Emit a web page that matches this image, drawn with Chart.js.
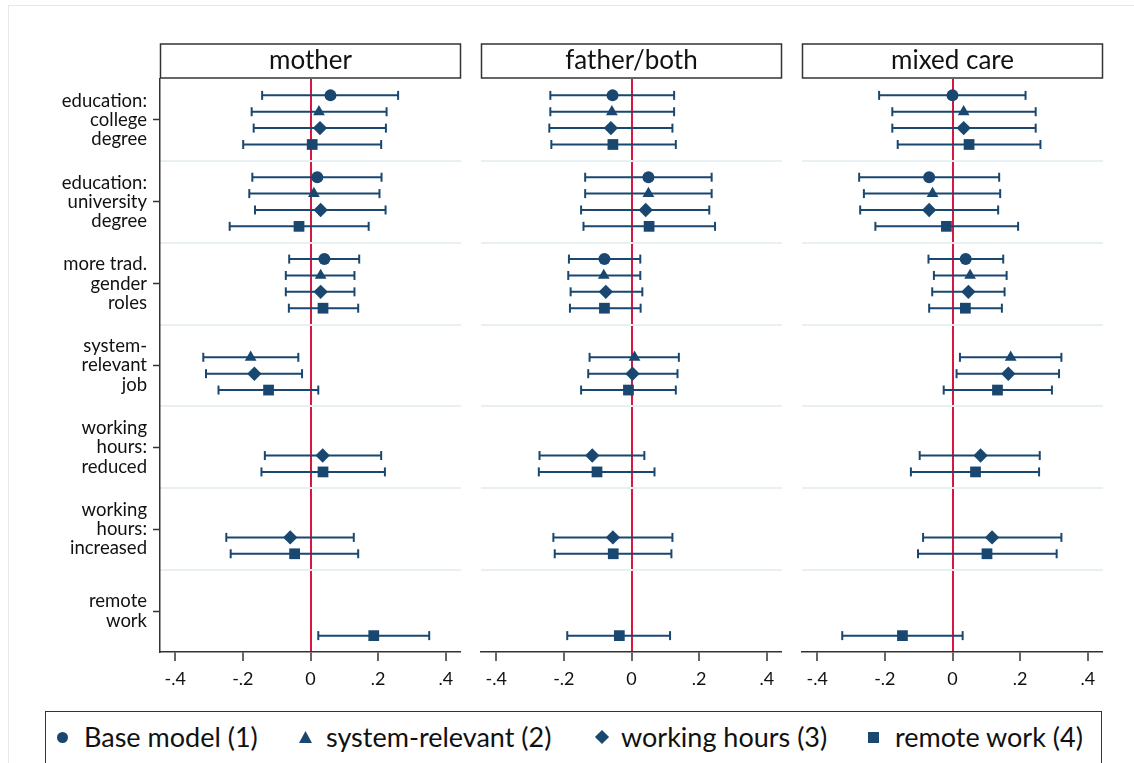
<!DOCTYPE html>
<html>
<head>
<meta charset="utf-8">
<script src="https://cdn.jsdelivr.net/npm/chart.js@4.4.1/dist/chart.umd.min.js"></script>
<style>
  body { margin: 0; background: #fff; }
  #wrap { position: relative; width: 1134px; height: 763px; overflow: hidden; font-family: Lato, sans-serif; }
  #frame { position: absolute; left: 8px; top: 5px; width: 1140px; height: 780px; border: 1px solid #e8e8e8; }
  canvas { position: absolute; top: 0; }
  #legend { position: absolute; left: 45px; top: 711px; width: 1055px; height: 70px; border: 1.5px solid #333; background: #fff; }
  .item { position: absolute; top: 7px; font-size: 27px; color: #111; line-height: 36px; white-space: nowrap; }
  .mk { position: absolute; background: #1a476f; }
</style>
</head>
<body>
<div id="wrap">
  <div id="frame"></div>
  <canvas id="pMother" width="470" height="700" style="left:0px"></canvas>
  <canvas id="pFather" width="320" height="700" style="left:470px"></canvas>
  <canvas id="pMixed" width="330" height="700" style="left:790px"></canvas>
  <div id="legend">
    <div class="mk" style="left:11px;top:20px;width:11px;height:11px;border-radius:50%"></div>
    <div class="item" style="left:38px">Base model (1)</div>
    <div class="mk" style="left:253px;top:19px;width:13px;height:12px;clip-path:polygon(50% 0,100% 100%,0 100%)"></div>
    <div class="item" style="left:280px">system-relevant (2)</div>
    <div class="mk" style="left:551px;top:20px;width:10px;height:10px;transform:rotate(45deg)"></div>
    <div class="item" style="left:575px">working hours (3)</div>
    <div class="mk" style="left:822px;top:20px;width:11px;height:11px"></div>
    <div class="item" style="left:849px">remote work (4)</div>
  </div>
</div>
<script>
// row labels, panels, ticks
const categories = [
  ['education:', 'college', 'degree'],
  ['education:', 'university', 'degree'],
  ['more trad.', 'gender', 'roles'],
  ['system-', 'relevant', 'job'],
  ['working', 'hours:', 'reduced'],
  ['working', 'hours:', 'increased'],
  ['remote', 'work']
];
const seriesNames = ['Base model (1)', 'system-relevant (2)', 'working hours (3)', 'remote work (4)'];
const xTickValues = [-0.4, -0.2, 0, 0.2, 0.4];

// [estimate, lower CI, upper CI] per row, null = not in model
const motherBase   = [[0.059, -0.143, 0.259], [0.020, -0.172, 0.210], [0.041, -0.063, 0.144], null, null, null, null];
const motherSysRel = [[0.025, -0.174, 0.225], [0.010, -0.181, 0.204], [0.030, -0.073, 0.130], [-0.177, -0.317, -0.036], null, null, null];
const motherHours  = [[0.028, -0.168, 0.223], [0.030, -0.164, 0.222], [0.030, -0.073, 0.130], [-0.166, -0.309, -0.025], [0.036, -0.135, 0.209], [-0.060, -0.249, 0.128], null];
const motherRemote = [[0.005, -0.199, 0.209], [-0.034, -0.239, 0.172], [0.037, -0.064, 0.141], [-0.124, -0.272, 0.023], [0.037, -0.145, 0.220], [-0.047, -0.236, 0.141], [0.187, 0.023, 0.351]];

const fatherBase   = [[-0.056, -0.240, 0.126], [0.050, -0.137, 0.237], [-0.080, -0.185, 0.026], null, null, null, null];
const fatherSysRel = [[-0.058, -0.240, 0.126], [0.050, -0.137, 0.237], [-0.082, -0.187, 0.026], [0.009, -0.124, 0.140], null, null, null];
const fatherHours  = [[-0.061, -0.243, 0.121], [0.042, -0.149, 0.230], [-0.076, -0.180, 0.032], [0.003, -0.128, 0.136], [-0.116, -0.272, 0.038], [-0.055, -0.231, 0.121], null];
const fatherRemote = [[-0.055, -0.237, 0.131], [0.052, -0.142, 0.247], [-0.080, -0.182, 0.027], [-0.009, -0.149, 0.131], [-0.102, -0.274, 0.068], [-0.054, -0.227, 0.118], [-0.036, -0.190, 0.114]];

const mixedBase   = [[0.000, -0.217, 0.216], [-0.069, -0.276, 0.138], [0.039, -0.071, 0.150], null, null, null, null];
const mixedSysRel = [[0.033, -0.178, 0.246], [-0.059, -0.262, 0.141], [0.052, -0.055, 0.160], [0.172, 0.022, 0.322], null, null, null];
const mixedHours  = [[0.033, -0.178, 0.246], [-0.069, -0.273, 0.135], [0.047, -0.060, 0.154], [0.165, 0.012, 0.315], [0.083, -0.097, 0.258], [0.117, -0.087, 0.322], null];
const mixedRemote = [[0.049, -0.162, 0.260], [-0.018, -0.228, 0.194], [0.038, -0.069, 0.146], [0.133, -0.026, 0.294], [0.068, -0.123, 0.256], [0.102, -0.102, 0.308], [-0.148, -0.326, 0.030]];

const NAVY = '#1a476f';
const markerStyles = ['circle', 'triangle', 'rectRot', 'rect'];
const markerRadius = [6, 6.8, 7.2, 7.6];
// each row block has 4 slots + one blank slot as separator
const slot = (g, s) => g * 5 + s;

function fmtTick(v) {
  if (v === 0) return '0';
  return (v < 0 ? '-' : '') + Math.abs(v).toFixed(1).replace(/^0/, '');
}

const stripPlugin = {
  id: 'strip',
  afterDraw(chart, args, opts) {
    const { ctx, chartArea: a } = chart;
    ctx.save();
    ctx.fillStyle = '#fff';
    ctx.fillRect(a.left, a.top - 35, a.right - a.left, 34);
    ctx.strokeStyle = '#333';
    ctx.lineWidth = 1.5;
    ctx.strokeRect(a.left + 0.5, a.top - 35, a.right - a.left - 1, 34);
    ctx.fillStyle = '#111';
    ctx.font = '26px Lato';
    ctx.textAlign = 'center';
    ctx.textBaseline = 'middle';
    ctx.fillText(opts.title, (a.left + a.right) / 2, a.top - 18);
    ctx.restore();
  }
};

function makePanel(id, title, series, showLabels, padLeft, padRight) {
  const datasets = [];
  series.forEach((rows, s) => {
    datasets.push({
      label: seriesNames[s],
      data: rows.map((r, g) => r ? { x: r[0], y: slot(g, s) } : null).filter(Boolean),
      pointStyle: markerStyles[s],
      pointRadius: markerRadius[s],
      pointBackgroundColor: NAVY,
      pointBorderColor: NAVY,
      pointBorderWidth: 0,
      order: 0
    });
    const ci = [];
    rows.forEach((r, g) => {
      if (!r) return;
      ci.push({ x: r[1], y: slot(g, s) }, { x: r[2], y: slot(g, s) }, { x: null, y: null });
    });
    datasets.push({
      label: seriesNames[s] + ' CI',
      data: ci,
      showLine: true,
      spanGaps: false,
      borderColor: NAVY,
      borderWidth: 2,
      pointStyle: 'line',
      pointRotation: 90,
      pointRadius: 4.5,
      pointBorderWidth: 2,
      pointBorderColor: NAVY,
      order: 1
    });
  });

  const scales = {
    x: {
      type: 'linear',
      min: -0.445,
      max: 0.445,
      afterBuildTicks: sc => { sc.ticks = xTickValues.map(v => ({ value: v })); },
      afterFit: sc => { sc.height = 40; },
      ticks: { callback: v => fmtTick(v), font: { family: 'Lato', size: 18 }, color: '#111', padding: 7, maxRotation: 0 },
      grid: {
        color: c => (c.tick && c.tick.value === 0) ? '#d8173f' : 'rgba(0,0,0,0)',
        lineWidth: c => (c.tick && c.tick.value === 0) ? 2 : 0,
        drawTicks: true,
        tickLength: 9,
        tickColor: '#333',
        tickWidth: 1.5
      },
      border: { display: true, color: '#333', width: 1.5 }
    },
    y: {
      type: 'linear',
      min: -1,
      max: 34,
      reverse: true,
      position: 'right',
      afterBuildTicks: sc => { sc.ticks = [4, 9, 14, 19, 24, 29].map(v => ({ value: v })); },
      afterFit: sc => { sc.width = 0; },
      ticks: { display: false },
      grid: { color: '#e8f0f2', lineWidth: 2, drawTicks: false },
      border: { display: false }
    }
  };
  if (showLabels) {
    scales.yl = {
      type: 'linear',
      min: -1,
      max: 34,
      reverse: true,
      position: 'left',
      afterBuildTicks: sc => { sc.ticks = categories.map((c, g) => ({ value: slot(g, 1.5) })); },
      afterFit: sc => { sc.width = 160; },
      ticks: {
        callback: (v, i) => categories[i],
        autoSkip: false,
        font: { family: 'Lato', size: 18.5, lineHeight: 1.04 },
        color: '#111',
        padding: 6
      },
      grid: { drawOnChartArea: false, drawTicks: true, tickLength: 7, tickColor: '#333', tickWidth: 1.5 },
      border: { display: true, color: '#333', width: 1.5 }
    };
  }

  return new Chart(document.getElementById(id).getContext('2d'), {
    type: 'scatter',
    data: { datasets: datasets },
    options: {
      responsive: false,
      animation: false,
      layout: { padding: { top: 79, bottom: 8, left: padLeft, right: padRight } },
      scales: scales,
      plugins: {
        legend: { display: false },
        tooltip: { enabled: false },
        strip: { title: title }
      }
    },
    plugins: [stripPlugin]
  });
}

makePanel('pMother', 'mother', [motherBase, motherSysRel, motherHours, motherRemote], true, 0, 9);
makePanel('pFather', 'father/both', [fatherBase, fatherSysRel, fatherHours, fatherRemote], false, 11, 8);
makePanel('pMixed', 'mixed care', [mixedBase, mixedSysRel, mixedHours, mixedRemote], false, 12, 17);
</script>
</body>
</html>
